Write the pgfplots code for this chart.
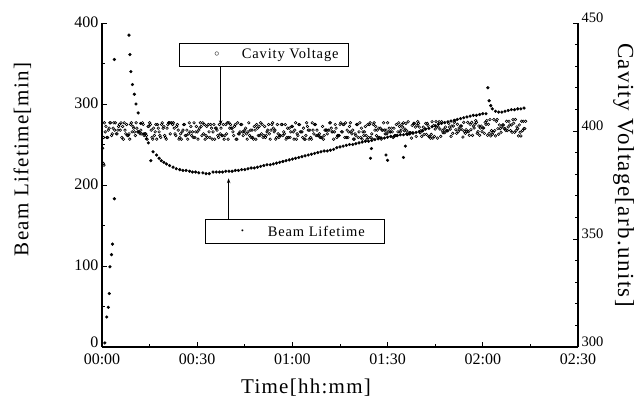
\documentclass[border=0pt]{standalone}
\usepackage{pgfplots}
\pgfplotsset{compat=1.18}
\usetikzlibrary{arrows.meta}
\usepackage{fontspec}
\setmainfont{Liberation Serif}
\newfontfamily\labfont[LetterSpace=6]{Liberation Serif}

\begin{document}
\begin{tikzpicture}
\useasboundingbox (-102pt,-57pt) rectangle (535pt,347pt);
\pgfplotsset{
  base/.style={
    scale only axis, width=476pt, height=324pt,
    xmin=0, xmax=150, clip=false,
    tick align=inside, major tick length=5pt, minor tick length=3pt,
    every tick/.style={black, line width=0.9pt},
    axis line style={line width=1.3pt},
    /pgf/number format/assume math mode=true,
  },
}

% left axis: beam lifetime
\begin{axis}[base,
  axis x line*=bottom, axis y line*=left,
  ymin=0, ymax=400,
  xtick={0,30,...,150}, minor xtick={15,45,...,135},
  xticklabels={00:00,00:30,01:00,01:30,02:00,02:30},
  ytick={0,100,...,400}, minor ytick={50,150,...,350},
  yticklabels={\raisebox{4pt}[\height][\depth]{0},100,200,300,400},
  tick label style={font=\fontsize{16}{16}\selectfont},
  xticklabel style={yshift=-3pt},
  yticklabel style={yshift=1pt},
  xlabel={Time[hh:mm]}, ylabel={Beam Lifetime[min]},
  every axis x label/.style={at={(axis description cs:0.4286,-0.1265)}, anchor=center,
    font=\labfont\fontsize{21}{21}\selectfont},
  every axis y label/.style={at={(axis description cs:-0.167,0.579)}, anchor=center, rotate=90,
    font=\labfont\fontsize{21}{21}\selectfont},
]
\addplot[only marks, mark=*, mark size=1.4pt, black] coordinates {
 (0.9,5) (1.5,37) (2.0,49) (2.3,66) (2.5,99) (3.0,114) (3.3,127) (3.9,183) (3.9,355)
 (8.5,385) (8.8,361) (9.1,340) (9.6,324) (10.2,312) (10.7,300) (11.4,289)
 (12.2,276) (13.2,263) (14.0,257) (14.6,252) (15.4,230) (16.1,241) (17.2,237)
 (18.0,233) (18.7,230) (19.5,228) (20.3,226) (21.3,224) (22.4,222) (23.4,220)
 (24.5,219) (25.5,218) (26.5,218) (27.6,217) (28.5,216) (29.5,216) (30.5,215)
 (31.8,215) (32.8,214) (33.8,214) (35,216) (36,216) (37,216) (38,216) (39,217)
 (40,217) (41,217) (42,218) (43,218) (44,219) (45,219) (46,220) (47,221) (48,221)
 (49,222) (50,223) (51,224) (52,225) (53,225) (54,226) (55,227) (56,228) (57,229)
 (58,230) (59,231) (60,232) (61,233) (62,234) (63,235) (64,236) (65,237) (66,238)
 (67,239) (68,240) (69,241) (70,242) (71,242) (72,243) (73,244) (74,246) (75,247)
 (76,248) (77,249) (78,250) (79,250) (80,251) (81,252) (82,253) (83,254) (84,254)
 (85,255) (86,256) (87,257) (88,258) (89,258) (90,259) (91,260) (92,260) (93,261)
 (94,262) (95,262) (96,263) (97,263) (98,264) (99,265) (100,266) (101,267)
 (102,269) (103,270) (104,272) (105,273) (106,275) (107,276) (108,277) (109,278)
 (110,279) (111,280) (112,281) (113,282) (114,283) (115,284) (116,285) (117,286)
 (118,286) (119,287) (120,288) (121,288) (121.6,320) (122,304) (122.5,298)
 (123,294) (124,291) (125,290) (126,290) (127,291) (128,292) (129,293) (130,293)
 (131,294) (132,294) (133,295)
 (84.9,245) (84.6,233) (89.5,237) (90,230.5) (95,234) (95.6,248)
};

% legend boxes with arrows
\draw[line width=1pt] (axis cs:24.5,346.5) rectangle (axis cs:77.7,375.3);
\node[inner sep=0pt] at (axis cs:36.2,361) {$\circ$};
\node[anchor=west, inner sep=0pt, font=\labfont\fontsize{14.5}{14.5}\selectfont]
  at (axis cs:44,361) {Cavity Voltage};
\draw[line width=0.8pt, -{Stealth[length=5pt,width=3.5pt]}]
  (axis cs:37.4,346.5) -- (axis cs:37.4,273.7);

\draw[line width=1pt] (axis cs:32.7,128) rectangle (axis cs:89,157.7);
\node[inner sep=0pt, font=\fontsize{8}{8}\selectfont] at (axis cs:44.3,142.8) {\textbullet};
\node[anchor=west, inner sep=0pt, font=\labfont\fontsize{14.5}{14.5}\selectfont]
  at (axis cs:52.2,142.8) {Beam Lifetime};
\draw[line width=0.8pt, -{Stealth[length=5pt,width=3.5pt]}]
  (axis cs:39.9,157.7) -- (axis cs:39.9,208.3);
\end{axis}

% right axis: cavity voltage
\begin{axis}[base,
  axis x line=none, axis y line*=right,
  ymin=300, ymax=450,
  ytick={300,350,400,450}, minor ytick={310,320,...,440},
  yticklabel style={font=\fontsize{14.5}{14.5}\selectfont, anchor=west, yshift=5pt},
  ylabel={Cavity Voltage[arb.units]},
  every axis y label/.style={at={(axis description cs:1.0956,0.531)}, anchor=center, rotate=-90,
    font=\labfont\fontsize{23}{23}\selectfont},
]
\addplot[only marks, mark=o, mark size=1.3pt, mark options={line width=0.6pt}, black] coordinates {
 (0.2,392.0) (0.4,385.0) (0.6,384.2)
 (0.5,397.0) (1.0,399.6) (1.5,397.0) (2.0,400.4) (2.5,403.8) (3.0,397.9) (3.5,401.3) (4.0,400.4) (4.5,398.7) (5.0,400.4)
 (5.5,403.0) (6.0,403.8) (6.5,402.1) (7.0,403.8) (7.5,398.7) (8.0,397.9) (8.5,398.7) (9.0,403.0) (9.5,399.6) (10.0,401.3)
 (10.5,397.9) (11.0,401.3) (11.5,399.6) (12.0,398.7) (12.5,398.7) (13.0,403.0) (13.5,398.7) (14.0,397.9) (14.5,402.1) (15.0,403.8)
 (15.5,400.4) (16.0,396.2) (16.5,397.9) (17.0,403.0) (17.5,403.0) (18.0,399.6) (18.5,397.0) (19.0,403.8) (19.5,402.1) (20.0,397.0)
 (20.5,401.3) (21.0,403.8) (21.5,398.7) (22.0,403.8) (22.5,403.8) (23.0,398.7) (23.5,402.1) (24.0,400.4) (24.5,397.0) (25.0,396.2)
 (25.5,400.4) (26.0,403.0) (26.5,397.9) (27.0,396.2) (27.5,403.8) (28.0,402.1) (28.5,399.6) (29.0,403.8) (29.5,399.6) (30.0,399.6)
 (30.5,400.4) (31.0,403.8) (31.5,397.9) (32.0,398.7) (32.5,396.2) (33.0,402.1) (33.5,403.0) (34.0,397.0) (34.5,401.3) (35.0,399.6)
 (35.5,396.2) (36.0,401.3) (36.5,397.9) (37.0,403.0) (37.5,401.3) (38.0,397.9) (38.5,396.2) (39.0,403.0) (39.5,403.8) (40.0,403.8)
 (40.5,403.0) (41.0,401.3) (41.5,397.9) (42.0,403.0) (42.5,396.2) (43.0,398.7) (43.5,399.6) (44.0,403.0) (44.5,397.9) (45.0,400.4)
 (45.5,398.7) (46.0,399.6) (46.5,397.9) (47.0,397.0) (47.5,397.0) (48.0,402.1) (48.5,396.2) (49.0,401.3) (49.5,402.1) (50.0,403.8)
 (50.5,403.0) (51.0,397.9) (51.5,397.0) (52.0,399.6) (52.5,403.0) (53.0,396.2) (53.5,403.0) (54.0,401.3) (54.5,400.4) (55.0,397.0)
 (55.5,398.7) (56.0,397.9) (56.5,403.0) (57.0,397.9) (57.5,398.7) (58.0,396.2) (58.5,401.3) (59.0,401.3) (59.5,399.6) (60.0,402.1)
 (60.5,396.2) (61.0,403.8) (61.5,398.7) (62.0,403.0) (62.5,399.6) (63.0,399.6) (63.5,401.3) (64.0,396.2) (64.5,403.8) (65.0,400.4)
 (65.5,400.4) (66.0,396.2) (66.5,400.4) (67.0,403.0) (67.5,397.9) (68.0,397.9) (68.5,398.7) (69.0,397.0) (69.5,402.1) (70.0,397.9)
 (70.5,400.4) (71.0,398.7) (71.5,400.4) (72.0,403.8) (72.5,399.6) (73.0,396.2) (73.5,403.0) (74.0,397.0) (74.5,397.9) (75.0,403.0)
 (75.5,399.6) (76.0,403.0) (76.5,397.0) (77.0,397.0) (77.5,397.0) (78.0,402.1) (78.5,399.6) (79.0,400.4) (79.5,396.2) (80.0,397.9)
 (80.5,403.0) (81.0,399.6) (81.5,397.0) (82.0,396.2) (82.5,397.9) (83.0,402.1) (83.5,396.2) (84.0,397.0) (84.5,403.8) (85.0,398.7)
 (85.5,403.0) (86.0,400.4) (86.5,397.9) (87.0,397.0) (87.5,397.0) (88.0,396.2) (88.5,400.4) (89.0,400.4) (89.5,400.4) (90.0,403.8)
 (90.5,401.3) (91.0,399.6) (91.5,399.6) (92.0,401.3) (92.5,397.9) (93.0,397.9) (93.5,403.8) (94.0,399.6) (94.5,403.0) (95.0,403.8)
 (95.5,400.9) (96.0,400.1) (96.5,404.3) (97.0,399.2) (97.5,396.7) (98.0,399.2) (98.5,403.5) (99.0,397.5) (99.5,404.3) (100.0,401.8)
 (100.5,400.1) (101.0,400.1) (101.5,398.4) (102.0,403.5) (102.5,403.5) (103.0,397.5) (103.5,396.7) (104.0,404.3) (104.5,402.6) (105.0,400.9)
 (105.5,401.8) (106.0,401.8) (106.5,400.9) (107.0,404.3) (107.5,399.2) (108.0,399.2) (108.5,400.1) (109.0,400.1) (109.5,401.8) (110.0,397.5)
 (110.5,398.9) (111.0,404.0) (111.5,400.6) (112.0,403.1) (112.5,401.4) (113.0,402.3) (113.5,400.6) (114.0,404.0) (114.5,398.9) (115.0,399.7)
 (115.5,399.7) (116.0,403.1) (116.5,404.0) (117.0,402.3) (117.5,403.1) (118.0,404.0) (118.5,399.7) (119.0,398.0) (119.5,402.3) (120.0,401.4)
 (120.5,398.9) (121.0,403.1) (121.5,398.0) (122.0,398.9) (122.5,397.7) (123.0,398.5) (123.5,405.3) (124.0,397.7) (124.5,405.3) (125.0,398.5)
 (125.5,401.1) (126.0,401.9) (126.5,402.8) (127.0,401.1) (127.5,404.5) (128.0,401.9) (128.5,402.8) (129.0,402.8) (129.5,405.3) (130.0,399.4)
 (130.5,400.2) (131.0,401.1) (131.5,402.8) (132.0,397.7) (132.5,400.2) (133.0,401.1) (133.5,404.5)
 (0.75,403.8) (1.25,402.1) (1.75,397.0) (2.25,401.3) (2.75,403.8) (3.25,398.7) (3.75,403.8) (4.25,403.8) (4.75,398.7) (5.25,402.1)
 (5.75,400.4) (6.25,397.0) (6.75,396.2)
 (7.25,400.4) (7.75,403.0) (8.25,397.9) (8.75,396.2) (9.25,403.8) (9.75,402.1) (10.25,399.6) (10.75,403.8) (11.25,399.6) (11.75,399.6)
 (12.25,400.4) (12.75,403.8) (13.25,397.9) (13.75,398.7) (14.25,396.2) (14.75,402.1) (15.25,403.0) (15.75,397.0) (16.25,401.3) (16.75,399.6)
 (17.25,396.2) (17.75,401.3) (18.25,397.9) (18.75,403.0) (19.25,401.3) (19.75,397.9) (20.25,396.2) (20.75,403.0) (21.25,403.8) (21.75,403.8)
 (22.25,403.0) (22.75,401.3) (23.25,397.9) (23.75,403.0) (24.25,396.2) (24.75,398.7) (25.25,399.6) (25.75,403.0) (26.25,397.9) (26.75,400.4)
 (27.25,398.7) (27.75,399.6) (28.25,397.9) (28.75,397.0) (29.25,397.0) (29.75,402.1) (30.25,396.2) (30.75,401.3) (31.25,402.1) (31.75,403.8)
 (32.25,403.0) (32.75,397.9) (33.25,397.0) (33.75,399.6) (34.25,403.0) (34.75,396.2) (35.25,403.0) (35.75,401.3) (36.25,400.4) (36.75,397.0)
 (37.25,398.7) (37.75,397.9) (38.25,403.0) (38.75,397.9) (39.25,398.7) (39.75,396.2) (40.25,401.3) (40.75,401.3) (41.25,399.6) (41.75,402.1)
 (42.25,396.2) (42.75,403.8) (43.25,398.7) (43.75,403.0) (44.25,399.6) (44.75,399.6) (45.25,401.3) (45.75,396.2) (46.25,403.8) (46.75,400.4)
 (47.25,400.4) (47.75,396.2) (48.25,400.4) (48.75,403.0) (49.25,397.9) (49.75,397.9) (50.25,398.7) (50.75,397.0) (51.25,402.1) (51.75,397.9)
 (52.25,400.4) (52.75,398.7) (53.25,400.4) (53.75,403.8) (54.25,399.6) (54.75,396.2) (55.25,403.0) (55.75,397.0) (56.25,397.9) (56.75,403.0)
 (57.25,399.6) (57.75,403.0) (58.25,397.0) (58.75,397.0) (59.25,397.0) (59.75,402.1) (60.25,399.6) (60.75,400.4) (61.25,396.2) (61.75,397.9)
 (62.25,403.0) (62.75,399.6) (63.25,397.0) (63.75,396.2) (64.25,397.9) (64.75,402.1) (65.25,396.2) (65.75,397.0) (66.25,403.8) (66.75,398.7)
 (67.25,403.0) (67.75,400.4) (68.25,397.9) (68.75,397.0) (69.25,397.0) (69.75,396.2) (70.25,400.4) (70.75,400.4) (71.25,400.4) (71.75,403.8)
 (72.25,401.3) (72.75,399.6) (73.25,399.6) (73.75,401.3) (74.25,397.9) (74.75,397.9) (75.25,403.8) (75.75,399.6) (76.25,403.0) (76.75,403.8)
 (77.25,400.4) (77.75,399.6) (78.25,403.8) (78.75,398.7) (79.25,396.2) (79.75,398.7) (80.25,403.0) (80.75,397.0) (81.25,403.8) (81.75,401.3)
 (82.25,399.6) (82.75,399.6) (83.25,397.9) (83.75,403.0) (84.25,403.0) (84.75,397.0) (85.25,396.2) (85.75,403.8) (86.25,402.1) (86.75,400.4)
 (87.25,401.3) (87.75,401.3) (88.25,400.4) (88.75,403.8) (89.25,398.7) (89.75,398.7) (90.25,399.6) (90.75,399.6) (91.25,401.3) (91.75,397.0)
 (92.25,397.9) (92.75,403.0) (93.25,399.6) (93.75,402.1) (94.25,400.4) (94.75,401.8) (95.25,400.1) (95.75,403.5) (96.25,398.4) (96.75,399.2)
 (97.25,399.2) (97.75,402.6) (98.25,403.5) (98.75,401.8) (99.25,402.6) (99.75,403.5) (100.25,399.2) (100.75,397.5) (101.25,401.8) (101.75,400.9)
 (102.25,398.4) (102.75,402.6) (103.25,397.5) (103.75,398.4) (104.25,396.7) (104.75,397.5) (105.25,404.3) (105.75,396.7) (106.25,404.3) (106.75,397.5)
 (107.25,400.1) (107.75,400.9) (108.25,401.8) (108.75,400.1) (109.25,403.5) (109.75,400.9) (110.25,402.3) (110.75,402.3) (111.25,404.8) (111.75,398.9)
 (112.25,399.7) (112.75,400.6) (113.25,402.3) (113.75,397.2) (114.25,399.7) (114.75,400.6) (115.25,404.0)
 (115.75,398.0) (116.25,400.6) (116.75,398.0) (117.25,401.4) (117.75,404.8) (118.25,398.9) (118.75,402.3) (119.25,401.4) (119.75,399.7) (120.25,401.4)
 (120.75,404.0) (121.25,404.8) (121.75,403.1) (122.25,405.3) (122.75,400.2) (123.25,399.4) (123.75,400.2) (124.25,404.5) (124.75,401.1) (125.25,402.8)
 (125.75,399.4) (126.25,402.8) (126.75,401.1) (127.25,400.2) (127.75,400.2) (128.25,404.5) (128.75,400.2) (129.25,399.4) (129.75,403.6) (130.25,405.3)
 (130.75,401.9) (131.25,397.7) (131.75,399.4) (132.25,404.5) (132.75,404.5) (133.25,401.1)
};
\end{axis}
\end{tikzpicture}
\end{document}
